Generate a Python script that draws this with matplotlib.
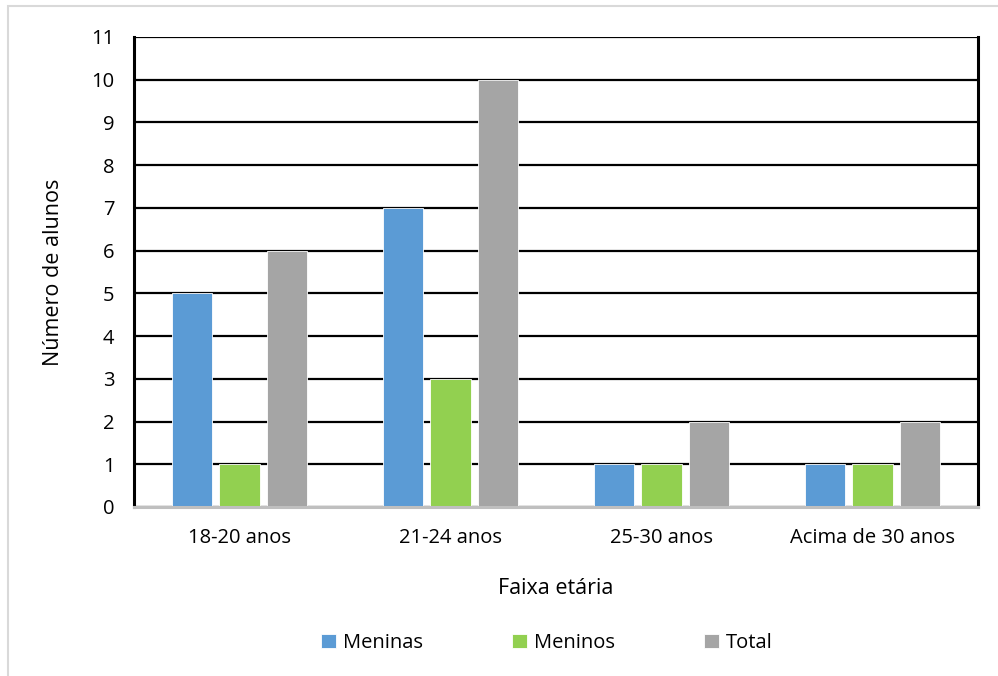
import matplotlib.pyplot as plt
import matplotlib.patches as mpatches
import numpy as np

plt.rcParams['font.family'] = ['Open Sans', 'DejaVu Sans']

faixas = ['18-20 anos', '21-24 anos', '25-30 anos', 'Acima de 30 anos']
meninas = [5, 7, 1, 1]
meninos = [1, 3, 1, 1]
total = [6, 10, 2, 2]

series = [('Meninas', meninas, '#5b9bd5'),
          ('Meninos', meninos, '#92d050'),
          ('Total', total, '#a5a5a5')]

fig = plt.figure(figsize=(9.98, 6.76), dpi=100)
ax = fig.add_axes([0.1343, 0.25, 0.8457, 0.6953])

# light frame around the chart area
fig.patches.append(mpatches.Rectangle((8 / 998, -0.05), 1.2, 1 - 6 / 676 + 0.05,
                                      transform=fig.transFigure, fill=False,
                                      edgecolor='#d9d9d9', linewidth=1.5))

x = np.arange(len(faixas))
w = 0.19
step = 0.227
for i, (nome, vals, cor) in enumerate(series):
    ax.bar(x + (i - 1) * step, vals, width=w, color=cor, label=nome,
           edgecolor='white', linewidth=0.6, zorder=3)

ax.set_xlim(-0.5, 3.5)
ax.set_ylim(0, 11)
ax.set_yticks(range(0, 12))
ax.yaxis.grid(True, color='black', linewidth=1.6, zorder=1)
ax.set_axisbelow(True)

ax.set_xticks(x)
ax.set_xticklabels(faixas)
ax.tick_params(axis='both', length=0, labelsize=14.5, colors='black')
ax.tick_params(axis='x', pad=15)
ax.tick_params(axis='y', pad=14)

for s in ['left', 'right']:
    ax.spines[s].set_color('black')
    ax.spines[s].set_linewidth(2.2)
ax.spines['top'].set_visible(False)
ax.spines['bottom'].set_color('#bfbfbf')
ax.spines['bottom'].set_linewidth(2.2)
ax.spines['bottom'].set_zorder(4)

ax.set_xlabel('Faixa etária', fontsize=15.5, labelpad=22)
ax.set_ylabel('Número de alunos', fontsize=15.5, labelpad=20)

fig.legend(loc='center', bbox_to_anchor=(0.548, 1 - 643 / 676), ncol=3,
           frameon=False, fontsize=14.5, handlelength=0.75, handleheight=0.75,
           handletextpad=0.35, columnspacing=4.4)

fig.savefig('out.png', dpi=100)
